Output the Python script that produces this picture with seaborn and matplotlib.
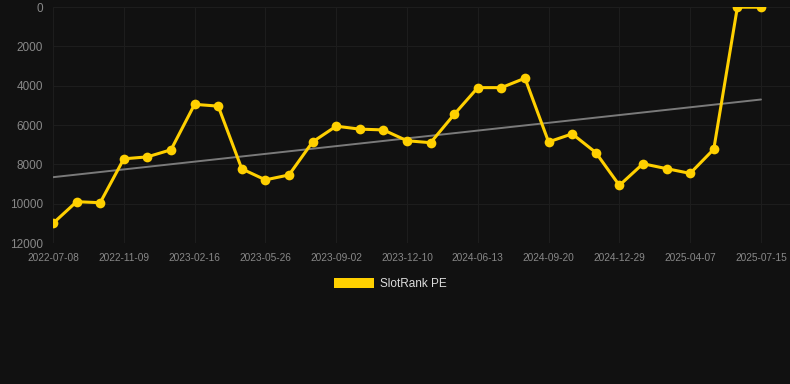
import numpy as np
import pandas as pd
import matplotlib
matplotlib.use("Agg")
import matplotlib.pyplot as plt
from matplotlib.patches import Patch
import seaborn as sns

# data (rank, lower is better -> axis inverted)
dates = ["2022-07-08", "2022-08-18", "2022-09-28", "2022-11-09", "2022-12-12",
         "2023-01-14", "2023-02-16", "2023-03-24", "2023-04-29", "2023-05-26",
         "2023-06-28", "2023-07-31", "2023-09-02", "2023-10-05", "2023-11-07",
         "2023-12-10", "2024-02-10", "2024-04-12", "2024-06-13", "2024-07-16",
         "2024-08-18", "2024-09-20", "2024-10-23", "2024-11-26", "2024-12-29",
         "2025-01-31", "2025-03-05", "2025-04-07", "2025-05-10", "2025-06-12",
         "2025-07-15"]
ranks = [11000, 9900, 9950, 7720, 7620, 7260, 4950, 5040, 8230, 8790,
         8540, 6860, 6060, 6210, 6250, 6800, 6900, 5460, 4100, 4100,
         3620, 6860, 6450, 7400, 9070, 7970, 8220, 8460, 7230, 10, 10]
y_ticks = [0, 2000, 4000, 6000, 8000, 10000, 12000]
series_name = "SlotRank PE"

bg = "#111111"
yellow = "#FFD000"
grid_c = "#1d1d1d"
tick_c = "#888888"

sns.set_style("dark")
plt.rcParams['font.family'] = ['Liberation Sans', 'DejaVu Sans']

df = pd.DataFrame({"pos": np.arange(len(dates)), "rank": ranks, "date": dates})

fig = plt.figure(figsize=(7.9, 3.84), dpi=100, facecolor=bg)
ax = fig.add_axes([53 / 790, 141 / 384, 737 / 790, 236 / 384])
ax.set_facecolor(bg)

# trend line
sns.regplot(data=df, x="pos", y="rank", scatter=False, ci=None, ax=ax,
            color="#7a7a7a", line_kws={"lw": 1.4})
sns.lineplot(data=df, x="pos", y="rank", ax=ax, color=yellow, lw=2.2,
             marker="o", markersize=7, markeredgewidth=0)

ax.set_xlim(0, len(dates) - 1 + 1.23)
ax.set_ylim(12000, 0)
ax.set_yticks(y_ticks)
ax.set_yticklabels([str(v) for v in y_ticks])
tick_pos = list(range(0, len(dates), 3))
ax.set_xticks(tick_pos)
ax.set_xticklabels([dates[i] for i in tick_pos])

ax.grid(True, color=grid_c, lw=0.8)
for s in ax.spines.values():
    s.set_visible(False)
ax.tick_params(axis="y", length=0, pad=7, labelsize=8.5, labelcolor=tick_c)
ax.tick_params(axis="x", length=5, width=0.8, color=grid_c, pad=2,
               labelsize=7.3, labelcolor=tick_c)
ax.set_xlabel("")
ax.set_ylabel("")

fig.legend(handles=[Patch(facecolor=yellow, edgecolor="none", label=series_name)],
           loc="center", bbox_to_anchor=(390 / 790, 1 - 284 / 384),
           frameon=False, fontsize=8.5, labelcolor="#dddddd",
           handlelength=3.4, handleheight=0.85, handletextpad=0.5)

fig.savefig("out.png", dpi=100, facecolor=bg)
